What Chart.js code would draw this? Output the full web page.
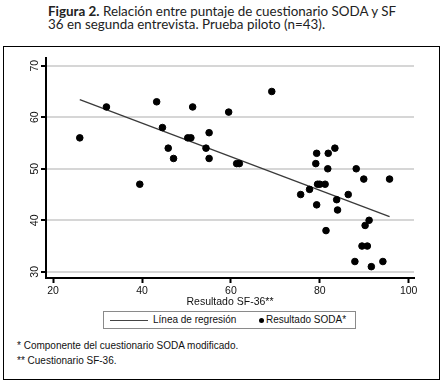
<!DOCTYPE html>
<html>
<head>
<meta charset="utf-8">
<script src="https://cdn.jsdelivr.net/npm/chart.js@4.4.1/dist/chart.umd.min.js"></script>
<style>
  body { margin: 0; background: #fff; width: 445px; height: 382px; position: relative; overflow: hidden; }
  #title { position: absolute; left: 48px; top: 5px; font: 13.4px Lato, "Open Sans", sans-serif; line-height: 13px; color: #222; }
  #title b { font-weight: bold; }
  #frame { position: absolute; left: 3px; top: 46px; width: 435px; height: 332px; border: 1.5px solid #000; }
  #wrap { position: absolute; left: 0; top: 46px; width: 445px; height: 262px; }
  #legend { position: absolute; left: 103px; top: 311px; width: 251px; height: 16px; border: 1px solid #8a8a8a; font: 10px "Liberation Sans", Arial, sans-serif; color: #111; }
  #legend .ln { position: absolute; left: 6px; top: 8px; width: 38px; height: 0; border-top: 1.3px solid #444; }
  #legend .dot { position: absolute; left: 155px; top: 6px; width: 5px; height: 5px; border-radius: 50%; background: #000; }
  #legend span { position: absolute; top: 2px; }
  .note { position: absolute; left: 17px; font: 10px "Liberation Sans", Arial, sans-serif; color: #111; }
</style>
</head>
<body>
<div id="title"><b>Figura 2.</b> Relación entre puntaje de cuestionario SODA y SF<br>36 en segunda entrevista. Prueba piloto (n=43).</div>
<div id="frame"></div>
<div id="wrap"><canvas id="myChart" width="445" height="262"></canvas></div>
<div id="legend">
  <div class="ln"></div><span style="left:49px">Línea de regresión</span>
  <div class="dot"></div><span style="left:162px">Resultado SODA*</span>
</div>
<div class="note" style="top:340px">* Componente del cuestionario SODA modificado.</div>
<div class="note" style="top:355px">** Cuestionario SF-36.</div>
<script>
// SF-36 score (x) and SODA score (y)
const sf36 = [26, 32, 39.5, 43.3, 44.6, 45.9, 47.1, 50.3, 51.0, 51.4, 54.4, 55.1, 55.1, 59.5, 61.3, 61.9,
    69.2, 83.4, 79.3, 81.9, 79.1, 81.8, 88.2, 89.9, 95.7, 79.5, 80.0, 81.2, 77.7, 75.7, 86.4,
    83.8, 84.0, 79.3, 91.1, 90.2, 81.4, 89.5, 90.7, 87.9, 94.2, 91.6];
const soda = [56, 62, 47, 63, 58, 54, 52, 56, 56, 62, 54, 57, 52, 61, 51, 51,
    65, 54, 53, 53, 51, 50, 50, 48, 48, 47, 47, 47, 46, 45, 45,
    44, 42, 43, 40, 39, 38, 35, 35, 32, 32, 31];
// regression line end points
const lineX = [26, 95.7];
const lineY = [63.4, 40.7];
const xTicks = [20, 40, 60, 80, 100];
const yTicks = [30, 40, 50, 60, 70];

const points = sf36.map((v, i) => ({x: v, y: soda[i]}));
const fit = lineX.map((v, i) => ({x: v, y: lineY[i]}));

const ctx = document.getElementById('myChart');
const tickFont = {family: '"Liberation Sans", Arial, sans-serif', size: 10.5};

new Chart(ctx, {
    type: 'scatter',
    data: {
        datasets: [{
            label: 'Resultado SODA*',
            data: points,
            backgroundColor: '#000',
            borderColor: '#000',
            pointRadius: 3.3,
            order: 0
        }, {
            label: 'Línea de regresión',
            data: fit,
            showLine: true,
            borderColor: '#3a3a3a',
            borderWidth: 1.3,
            pointRadius: 0,
            order: 1
        }]
    },
    options: {
        responsive: false,
        animation: false,
        layout: {padding: {left: 14, right: 31, top: 12, bottom: 0}},
        plugins: {legend: {display: false}, tooltip: {enabled: false}},
        scales: {
            x: {
                min: 18.4,
                max: 101.2,
                afterBuildTicks: a => { a.ticks = xTicks.map(v => ({value: v})); },
                afterFit: s => { s.height = 30; },
                border: {color: '#000', width: 2},
                grid: {drawOnChartArea: false, tickLength: 5, tickColor: '#000', tickWidth: 2},
                ticks: {font: tickFont, color: '#111', padding: 2, maxRotation: 0},
                title: {display: true, text: 'Resultado SF-36**', font: tickFont, color: '#111', padding: {top: 0, bottom: 0}}
            },
            y: {
                min: 28.8,
                max: 71.5,
                afterBuildTicks: a => { a.ticks = yTicks.map(v => ({value: v})); },
                afterFit: s => { s.width = 32; },
                border: {color: '#000', width: 2},
                grid: {color: '#d6d6d6', lineWidth: 2, tickLength: 5, tickColor: '#000', tickWidth: 2},
                ticks: {font: tickFont, color: '#111', padding: 0, minRotation: 90, maxRotation: 90, crossAlign: 'center'}
            }
        }
    }
});
</script>
</body>
</html>
